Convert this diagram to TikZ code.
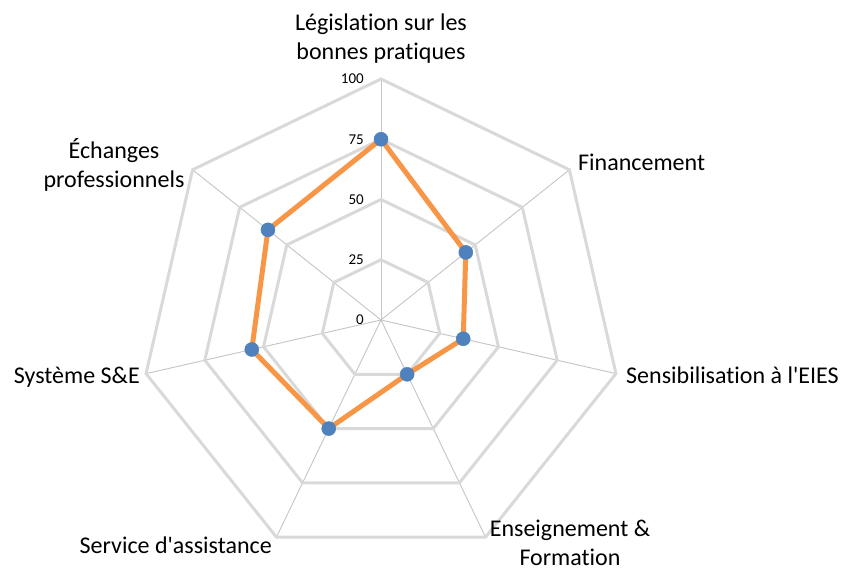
\documentclass[tikz,border=0pt]{standalone}
\usepackage{fontspec}
\setmainfont{Carlito}[Ligatures={TeX,NoCommon}]
\definecolor{gridc}{HTML}{D9D9D9}
\definecolor{spokec}{HTML}{C4C4C4}
\definecolor{serc}{HTML}{F79646}
\definecolor{mkc}{HTML}{4F81BD}
\begin{document}
\begin{tikzpicture}[x=1pt,y=-1pt,
  ring/.style={draw=gridc,line width=3pt,line join=miter},
  spoke/.style={draw=spokec,line width=0.9pt},
  series/.style={draw=serc,line width=5pt,line join=round},
  marker/.style={circle,fill=mkc,draw=mkc,line width=0.5pt,minimum size=14pt,inner sep=0pt},
  tick/.style={anchor=east,font=\fontsize{15}{17}\selectfont,inner sep=1pt},
  axlabel/.style={font=\fontsize{24}{29}\selectfont,align=center,inner sep=0pt}]
\useasboundingbox (0,0) rectangle (842,567);
\def\cx{381}\def\cy{320}\def\Rs{2.41}
\coordinate (O) at (\cx,\cy);
\foreach \i in {0,...,6}{
  \pgfmathsetmacro\ang{90-\i*360/7}
  \foreach \l in {25,50,75,100}{
    \coordinate (g\l-\i) at ({\cx+\Rs*\l*cos(\ang)},{\cy-\Rs*\l*sin(\ang)});
  }
}
\foreach \i in {0,...,6} \draw[spoke] (O) -- (g100-\i);
\foreach \l in {25,50,75,100}
  \draw[ring] (g\l-0) -- (g\l-1) -- (g\l-2) -- (g\l-3) -- (g\l-4) -- (g\l-5) -- (g\l-6) -- cycle;
\foreach \l in {0,25,50,75,100}
  \node[tick] (t\l) at (365,{\cy-\Rs*\l}) {\l};
\foreach \v [count=\i from 0] in {75,45,35,25,50,55,60}{
  \pgfmathsetmacro\ang{90-\i*360/7}
  \coordinate (p\i) at ({\cx+\Rs*\v*cos(\ang)},{\cy-\Rs*\v*sin(\ang)});
}
\draw[series] (p0) -- (p1) -- (p2) -- (p3) -- (p4) -- (p5) -- (p6) -- cycle;
\foreach \i in {0,...,6} \node[marker] (m\i) at (p\i) {};
\node[axlabel,anchor=base] (l0) at (381,60) {Législation sur les\\bonnes pratiques};
\node[axlabel,anchor=base west] (l1) at (578,170) {Financement};
\node[axlabel,anchor=base west] (l2) at (626,383) {Sensibilisation à l\textquotesingle EIES};
\node[axlabel,anchor=base] (l3) at (570,565) {Enseignement \&\\Formation};
\node[axlabel,anchor=base east] (l4) at (272,553) {Service d\textquotesingle assistance};
\node[axlabel,anchor=base east] (l5) at (140,383) {Système S\&E};
\node[axlabel,anchor=base] (l6) at (114,187) {Échanges\\professionnels};
\end{tikzpicture}
\end{document}
